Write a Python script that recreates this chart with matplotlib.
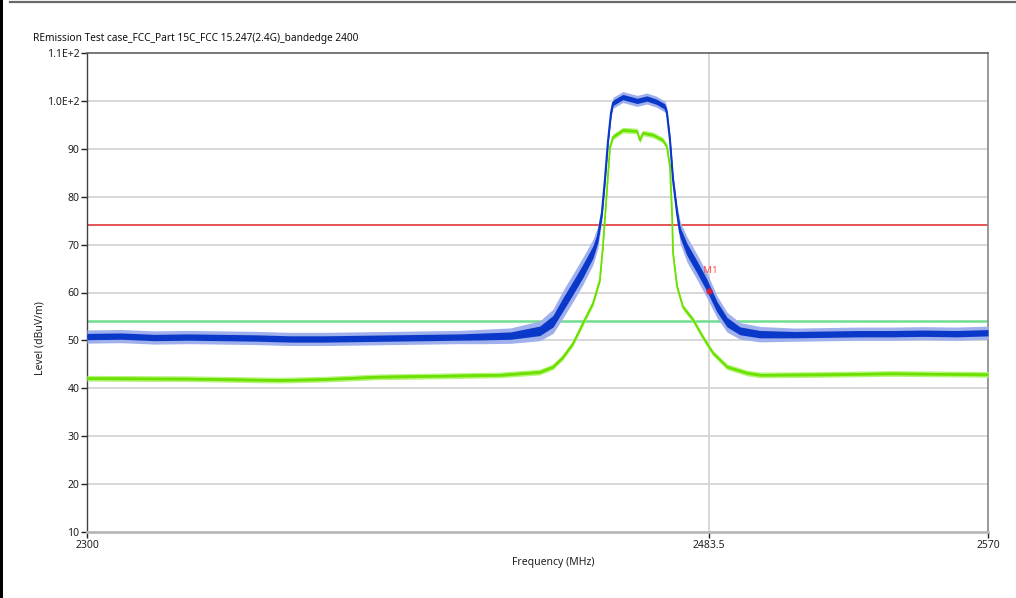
import numpy as np
import matplotlib
matplotlib.use("Agg")
import matplotlib.pyplot as plt
from matplotlib.lines import Line2D
from matplotlib.patches import Rectangle

plt.rcParams['font.family'] = ['Noto Sans', 'DejaVu Sans']

title = "REmission Test case_FCC_Part 15C_FCC 15.247(2.4G)_bandedge 2400"
x_ticks = [2300, 2483.5, 2570]
x_tick_labels = ["2300", "2483.5", "2570"]
y_ticks = [10, 20, 30, 40, 50, 60, 70, 80, 90, 100, 110]
y_tick_labels = ["10", "20", "30", "40", "50", "60", "70", "80", "90", "1.0E+2", "1.1E+2"]

# Peak trace (blue): frequency, level, noise half-width
peak_freq = [2300, 2310, 2320, 2330, 2340, 2350, 2360, 2370, 2380, 2390, 2400, 2410,
             2416, 2425, 2433.6, 2437.5, 2440.4, 2443.4, 2446.3, 2449.3, 2450.7,
             2451.9, 2452.8, 2453.7, 2454.6, 2455.2, 2458.1, 2462.3, 2465.2, 2468.1,
             2470.5, 2471.1, 2472.0, 2472.9, 2474.1, 2475.0, 2477.0, 2480.0, 2482.9,
             2486.0, 2489.1, 2493.1, 2499.3, 2510, 2520, 2530, 2540, 2550, 2560, 2570]
peak_level = [50.8, 50.9, 50.6, 50.7, 50.6, 50.5, 50.3, 50.3, 50.4, 50.5, 50.6, 50.7,
              50.8, 51.0, 52.0, 54.0, 57.5, 61.0, 64.5, 68.5, 71.5,
              76.5, 83.5, 91.5, 97.5, 99.6, 100.8, 100.0, 100.5, 99.8,
              98.8, 97.5, 91.8, 83.5, 76.5, 72.5, 69.0, 65.3, 61.5,
              57.0, 53.8, 52.0, 51.3, 51.2, 51.3, 51.4, 51.4, 51.5, 51.4, 51.6]
peak_spread = [1.2, 1.2, 1.2, 1.2, 1.2, 1.2, 1.2, 1.2, 1.2, 1.2, 1.2, 1.2,
               1.3, 1.4, 1.8, 2.2, 2.5, 2.5, 2.5, 2.3, 2.0,
               1.5, 1.2, 1.0, 1.0, 1.0, 1.0, 1.0, 1.0, 1.0,
               1.0, 1.0, 1.0, 1.2, 1.5, 2.0, 2.3, 2.3, 2.3,
               2.0, 1.8, 1.5, 1.4, 1.2, 1.2, 1.2, 1.2, 1.2, 1.2, 1.2]

# Average trace (green)
avg_freq = [2300, 2330, 2357, 2370, 2386, 2405, 2422, 2433.6, 2437.5, 2440.4, 2443.4,
            2446.3, 2449.3, 2451.3, 2452.2, 2453.4, 2454.3, 2455.2, 2458.1, 2462.3,
            2463.1, 2464.0, 2467.0, 2469.9, 2471.1, 2472.0, 2472.6, 2472.9, 2474.1,
            2475.8, 2478.8, 2481.7, 2484.7, 2489.1, 2495.3, 2499.3, 2520, 2540, 2555, 2570]
avg_level = [42.1, 42.0, 41.7, 41.9, 42.4, 42.6, 42.8, 43.4, 44.5, 46.5, 49.4,
             53.6, 57.8, 62.6, 69.5, 81.4, 90.4, 92.5, 93.9, 93.7,
             91.8, 93.3, 92.9, 91.8, 90.4, 86.2, 76.6, 68.2, 61.2,
             57.0, 54.3, 50.7, 47.4, 44.5, 43.2, 42.8, 42.9, 43.1, 43.0, 42.9]
avg_spread = 0.4

limit_peak = 74
limit_avg = 54
marker_freq = 2483.5
marker_level = 60.3
marker_label = "M1"

fig = plt.figure(figsize=(10.16, 5.98), dpi=100)
ax = fig.add_axes([87/1016, 1-532/598, (988-87)/1016, (532-53)/598])

# piecewise-linear frequency scale, as drawn by the analyzer software
def fwd(x):
    x = np.asarray(x, dtype=float)
    return np.where(x <= 2483.5, (x-2300)/(2483.5-2300)*0.6903,
                    0.6903 + (x-2483.5)/(2570-2483.5)*0.3097)
def inv(y):
    y = np.asarray(y, dtype=float)
    return np.where(y <= 0.6903, 2300 + y/0.6903*183.5, 2483.5 + (y-0.6903)/0.3097*86.5)
ax.set_xscale('function', functions=(fwd, inv))
ax.set_xlim(2300, 2570)
ax.set_ylim(10, 110)

# grid
for yt in y_ticks[1:-1]:
    ax.axhline(yt, color='#d4d4d4', lw=1.3, zorder=1)
ax.axvline(2483.5, color='#d4d4d4', lw=1.3, zorder=1)

# limit lines
ax.axhline(limit_peak, color='#e04848', lw=1.3, zorder=2)
ax.axhline(limit_avg, color='#70dd90', lw=1.8, zorder=2)

pf = np.array(peak_freq); pl = np.array(peak_level); ps = np.array(peak_spread)
af = np.array(avg_freq); al = np.array(avg_level)

# traces with their noise bands
ax.fill_between(af, al-avg_spread*1.5, al+avg_spread*1.5, color='#b4f47a', lw=0, zorder=3)
ax.fill_between(af, al-avg_spread*0.7, al+avg_spread*0.7, color='#72e400', lw=0, zorder=3)
ax.plot(af, al, color='#6ae000', lw=1.3, zorder=3)

ax.fill_between(pf, pl-ps*1.15, pl+ps*1.15, color='#9fb0ec', lw=0, zorder=4)
ax.fill_between(pf, pl-ps*0.55, pl+ps*0.55, color='#0a38c8', lw=0, zorder=4)
ax.plot(pf, pl, color='#0a38c8', lw=1.5, zorder=4)

# marker
ax.plot([marker_freq], [marker_level], 'o', color='#d02040', ms=3.5, zorder=6)
ax.text(marker_freq-1.8, marker_level+4.2, marker_label, color='#ff5050', fontsize=7,
        ha='left', va='center', zorder=6)

# ticks
ax.set_yticks(y_ticks, labels=y_tick_labels)
ax.set_xticks(x_ticks, labels=x_tick_labels)
ax.tick_params(axis='both', labelsize=7.5, colors='#202020', length=4, width=1, pad=1.5)
ax.tick_params(axis='x', pad=2)

ax.spines['left'].set_color('#404040'); ax.spines['left'].set_linewidth(1.0)
ax.spines['top'].set_color('#606060'); ax.spines['top'].set_linewidth(1.2)
ax.spines['right'].set_color('#888888'); ax.spines['right'].set_linewidth(1.2)
ax.spines['bottom'].set_color('#b8b8b8'); ax.spines['bottom'].set_linewidth(2.0)

fig.text(33/1016, 1-39/598, title, fontsize=7.3, color='#101010', ha='left', va='center')
fig.text(40/1016, 1-338/598, "Level (dBuV/m)", fontsize=7.5, rotation=90,
         ha='center', va='center', color='#202020')
fig.text(553/1016, 1-563/598, "Frequency (MHz)", fontsize=7.5, ha='center', va='center',
         color='#202020')

# window frame
fig.add_artist(Line2D([10/1016, 1], [1-1.5/598, 1-1.5/598], color='#6a6a6a', lw=1.6))
fig.add_artist(Rectangle((0, 0), 2.5/1016, 1, color='black', lw=0))

fig.savefig("out.png", dpi=100)
